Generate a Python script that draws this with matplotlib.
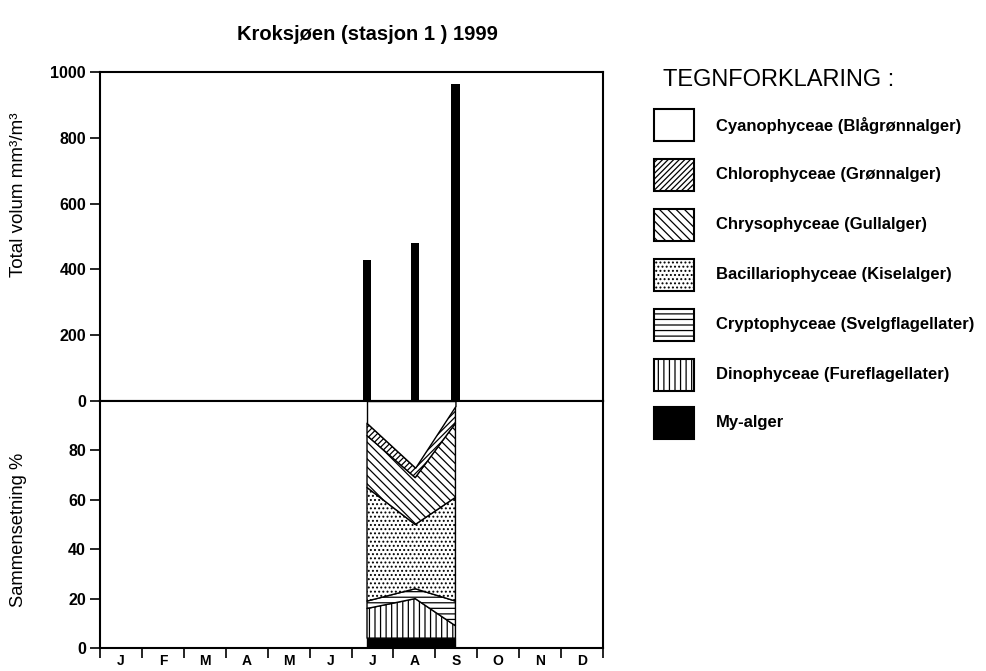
import matplotlib
matplotlib.use("Agg")
import matplotlib.pyplot as plt
from matplotlib.patches import Rectangle

plt.rcParams['font.family'] = ['Liberation Sans', 'DejaVu Sans']
plt.rcParams['hatch.linewidth'] = 0.9

# sample dates as fractional month (0 = 1 Jan, 12 = 31 Dec)
sample_month = [6.37, 7.52, 8.48]
total_volume = [430, 480, 965]

months = ['J', 'F', 'M', 'A', 'M', 'J', 'J', 'A', 'S', 'O', 'N', 'D']

# composition in percent, bottom to top
groups = ['My-alger',
          'Dinophyceae (Fureflagellater)',
          'Cryptophyceae (Svelgflagellater)',
          'Bacillariophyceae (Kiselalger)',
          'Chrysophyceae (Gullalger)',
          'Chlorophyceae (Grønnalger)',
          'Cyanophyceae (Blågrønnalger)']
my_alger = [4, 4, 4]
dino = [12, 16, 5]
crypto = [3, 4, 10]
bacillario = [46, 26, 42]
chryso = [21, 19, 30]
chloro = [5, 4, 7]
cyano = [9, 27, 2]
shares = [my_alger, dino, crypto, bacillario, chryso, chloro, cyano]

styles = {
    'My-alger': dict(facecolor='black', hatch=None),
    'Dinophyceae (Fureflagellater)': dict(facecolor='white', hatch='|||'),
    'Cryptophyceae (Svelgflagellater)': dict(facecolor='white', hatch='---'),
    'Bacillariophyceae (Kiselalger)': dict(facecolor='white', hatch='....'),
    'Chrysophyceae (Gullalger)': dict(facecolor='white', hatch='\\\\\\\\'),
    'Chlorophyceae (Grønnalger)': dict(facecolor='white', hatch='//////'),
    'Cyanophyceae (Blågrønnalger)': dict(facecolor='white', hatch=None),
}

fig = plt.figure(figsize=(9.86, 6.71), dpi=100)
W, H = 986, 671
x0, x1 = 100, 603
ytop, ymid, ybot = 72, 401, 648

ax_top = fig.add_axes([x0 / W, 1 - ymid / H, (x1 - x0) / W, (ymid - ytop) / H])
ax_bot = fig.add_axes([x0 / W, 1 - ybot / H, (x1 - x0) / W, (ybot - ymid) / H])

# top panel: total volume bars
ax_top.bar(sample_month, total_volume, width=0.2, color='black')
ax_top.set_xlim(0, 12)
ax_top.set_ylim(0, 1000)
ax_top.set_yticks(range(0, 1001, 200))
ax_top.set_xticks([])
ax_top.tick_params(axis='y', direction='out', length=7, width=1.2,
                   labelsize=11.5, pad=3)

# bottom panel: stacked composition
base = [0, 0, 0]
for name, vals in zip(groups, shares):
    top = [b + v for b, v in zip(base, vals)]
    st = styles[name]
    ax_bot.fill_between(sample_month, base, top, facecolor=st['facecolor'],
                        hatch=st['hatch'], edgecolor='black', linewidth=1.0)
    base = top
ax_bot.set_xlim(0, 12)
ax_bot.set_ylim(0, 100)
ax_bot.set_yticks(range(0, 81, 20))
ax_bot.set_xticks(range(13))
ax_bot.set_xticklabels([])
ax_bot.set_xticks([m + 0.5 for m in range(12)], minor=True)
ax_bot.set_xticklabels(months, minor=True)
ax_bot.tick_params(axis='x', which='major', direction='out', length=7, width=1.2)
ax_bot.tick_params(axis='x', which='minor', length=0, labelsize=10, pad=4)
ax_bot.tick_params(axis='y', direction='out', length=7, width=1.2,
                   labelsize=11.5, pad=3)

for ax in (ax_top, ax_bot):
    for sp in ax.spines.values():
        sp.set_linewidth(1.5)
    for lab in ax.get_yticklabels() + ax.get_xticklabels(minor=True):
        lab.set_fontweight('bold')

fig.text(19 / W, 1 - 195 / H, 'Total volum mm³/m³', rotation=90,
         ha='center', va='center', fontsize=13.5)
fig.text(19 / W, 1 - 530 / H, 'Sammensetning %', rotation=90,
         ha='center', va='center', fontsize=13.2)
fig.text(367 / W, 1 - 35 / H, 'Kroksjøen (stasjon 1 ) 1999',
         ha='center', va='center', fontsize=14.5, fontweight='bold')

# legend drawn by hand
fig.text(663 / W, 1 - 80 / H, 'TEGNFORKLARING :', ha='left', va='center',
         fontsize=17)
row_y = [125, 175, 225, 275, 325, 375, 423]
for name, yy in zip(groups[::-1], row_y):
    st = styles[name]
    fig.add_artist(Rectangle((654 / W, 1 - (yy + 16) / H), 40 / W, 32 / H,
                             transform=fig.transFigure, facecolor=st['facecolor'],
                             hatch=st['hatch'], edgecolor='black', linewidth=1.5))
    fig.text(716 / W, 1 - yy / H, name, ha='left', va='center',
             fontsize=12, fontweight='bold')

fig.savefig('out.png', dpi=100)
